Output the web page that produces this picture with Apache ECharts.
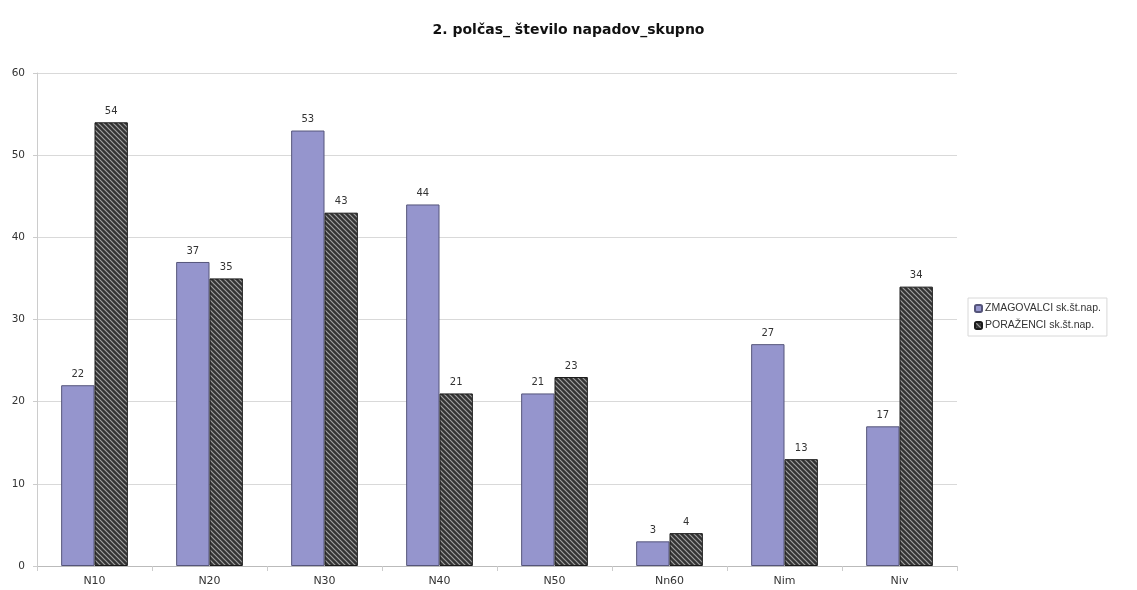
<!DOCTYPE html>
<html>
<head>
<meta charset="utf-8">
<style>
  html, body { margin: 0; padding: 0; background: #ffffff; }
  #chart { width: 1137px; height: 590px; }
</style>
<script src="https://cdn.jsdelivr.net/npm/echarts@6/dist/echarts.min.js"></script>
</head>
<body>
<div id="chart"></div>
<script>
// Attack counts in the second half, by attack type
const titleText = '2. polčas_ število napadov_skupno';
const categories = ['N10', 'N20', 'N30', 'N40', 'N50', 'Nn60', 'Nim', 'Niv'];
const seriesNames = ['ZMAGOVALCI sk.št.nap.', 'PORAŽENCI sk.št.nap.'];
const winners = [22, 37, 53, 44, 21, 3, 27, 17];
const losers = [54, 35, 43, 21, 23, 4, 13, 34];

// Diagonal hatch fill for the second series
function makeHatch() {
  const c = document.createElement('canvas');
  c.width = 5; c.height = 5;
  const g = c.getContext('2d');
  g.fillStyle = '#333333';
  g.fillRect(0, 0, 5, 5);
  g.strokeStyle = '#a0a0a0';
  g.lineWidth = 1.2;
  g.beginPath();
  g.moveTo(-1, -1); g.lineTo(6, 6);
  g.moveTo(-1, 4); g.lineTo(1, 6);
  g.moveTo(4, -1); g.lineTo(6, 1);
  g.stroke();
  return c;
}
const hatch = makeHatch();

const FONT = 'DejaVu Sans, Arial, sans-serif';
const chart = echarts.init(document.getElementById('chart'));
const labelStyle = { show: true, position: 'top', distance: 6, color: '#333', fontSize: 10, fontFamily: FONT };

chart.setOption({
  animation: false,
  backgroundColor: '#ffffff',
  title: {
    text: titleText,
    left: 'center',
    top: 18,
    textStyle: { fontSize: 14, fontWeight: 'bold', color: '#111', fontFamily: FONT }
  },
  legend: {
    orient: 'vertical',
    left: 968,
    top: 298,
    itemWidth: 7,
    itemHeight: 7,
    itemGap: 6,
    borderColor: '#d8d8d8',
    borderWidth: 1,
    padding: [5, 6, 5, 6],
    textStyle: { fontSize: 10.5, color: '#333', fontFamily: 'Liberation Sans, Arial, sans-serif', padding: [0, 0, 0, -2] },
    data: seriesNames
  },
  grid: { left: 37, right: 180, top: 73, bottom: 24, containLabel: false },
  xAxis: {
    type: 'category',
    data: categories,
    axisLine: { lineStyle: { color: '#bbbbbb' } },
    axisTick: { show: true, alignWithLabel: false, lineStyle: { color: '#cccccc' } },
    axisLabel: { color: '#333', fontSize: 11, margin: 10, fontFamily: FONT }
  },
  yAxis: {
    type: 'value',
    min: 0, max: 60, interval: 10,
    axisLine: { show: true, lineStyle: { color: '#cccccc' } },
    axisTick: { show: true, length: 4, lineStyle: { color: '#cccccc' } },
    axisLabel: { color: '#333', fontSize: 10.5, margin: 12, fontFamily: FONT },
    splitLine: { lineStyle: { color: '#d9d9d9' } }
  },
  series: [
    {
      name: seriesNames[0],
      type: 'bar',
      data: winners,
      barGap: '0%',
      barCategoryGap: '42%',
      itemStyle: { color: '#9595cd', borderColor: '#55557a', borderWidth: 1 },
      label: labelStyle
    },
    {
      name: seriesNames[1],
      type: 'bar',
      data: losers,
      itemStyle: { color: { image: hatch, repeat: 'repeat' }, borderColor: '#1a1a1a', borderWidth: 1 },
      label: labelStyle
    }
  ]
});
</script>
</body>
</html>
